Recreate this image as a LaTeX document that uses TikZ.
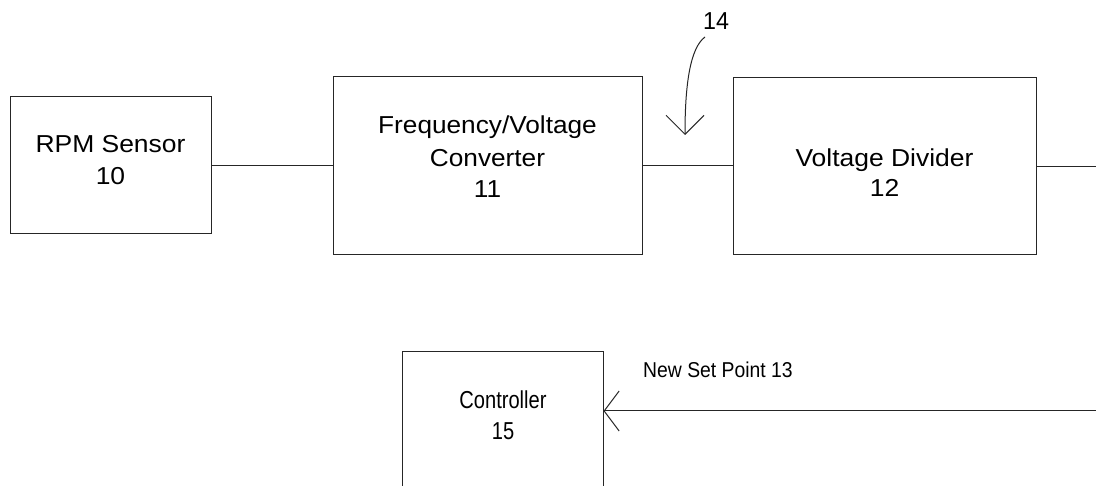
\documentclass[tikz,border=0pt]{standalone}
\usepackage{fontspec}
\setmainfont{Liberation Sans}
\usetikzlibrary{arrows.meta}
\begin{document}
\begin{tikzpicture}[x=1pt,y=-1pt,
  blk/.style={draw=black!85, line width=1pt, rectangle, inner sep=0pt},
  lbl/.style={anchor=base, inner sep=0pt, font=\fontsize{24.5}{30}\selectfont},
  wire/.style={draw=black!85, line width=1pt},
  barbA/.style={wire, -{Straight Barb[length=19pt, width=38pt, line width=1pt]}},
  barbB/.style={wire, -{Straight Barb[length=15pt, width=40pt, line width=1pt]}}]
\clip (0,0) rectangle (1096,486);
\useasboundingbox (0,0) rectangle (1096,486);
\fill[white] (0,0) rectangle (1096,486);
% boxes
\node[blk, minimum width=201pt, minimum height=137pt] (rpm) at (110.5,165.5) {};
\node[blk, minimum width=309pt, minimum height=178pt] (conv) at (487.5,166) {};
\node[blk, minimum width=303pt, minimum height=177pt] (div) at (884.5,166.5) {};
\node[blk, minimum width=201pt, minimum height=200pt] (ctrl) at (502.5,452) {};
% texts
\node[lbl] (t10a) at (110.5,153) {\scalebox{1.08}[1]{RPM Sensor}};
\node[lbl] (t10b) at (110.5,185) {\scalebox{1.08}[1]{10}};
\node[lbl] (t11a) at (487.5,134) {\scalebox{1.07}[1]{Frequency/Voltage}};
\node[lbl] (t11b) at (487.5,167) {\scalebox{1.07}[1]{Converter}};
\node[lbl] (t11c) at (487.5,198) {\scalebox{1.07}[1]{11}};
\node[lbl] (t12a) at (884.5,167) {\scalebox{1.08}[1]{Voltage Divider}};
\node[lbl] (t12b) at (884.5,197) {\scalebox{1.08}[1]{12}};
\node[lbl] (t15a) at (503,409) {\scalebox{0.82}[1]{Controller}};
\node[lbl] (t15b) at (503,440) {\scalebox{0.82}[1]{15}};
\node[lbl, anchor=base west, font=\fontsize{21.5}{26}\selectfont] (t13) at (643,378) {\scalebox{0.9}[1]{New Set Point 13}};
\node[lbl] (t14) at (716,30) {\scalebox{0.95}[1]{14}};
% connectors
\coordinate (outR) at (1096,166.5);
\coordinate (inR) at (1096,411);
\coordinate (s14) at (705,37);
\coordinate (tip14) at (685,135);
\draw[wire] (rpm.east) -- (conv.west |- rpm.east);
\draw[wire] (conv.east) -- (div.west |- conv.east);
\draw[wire] (div.east) -- (div.east -| outR);
\draw[barbB] (inR) -- (ctrl.east |- inR);
\draw[barbA] (s14) .. controls (690,48) and (685,85) .. (tip14);
\end{tikzpicture}
\end{document}
